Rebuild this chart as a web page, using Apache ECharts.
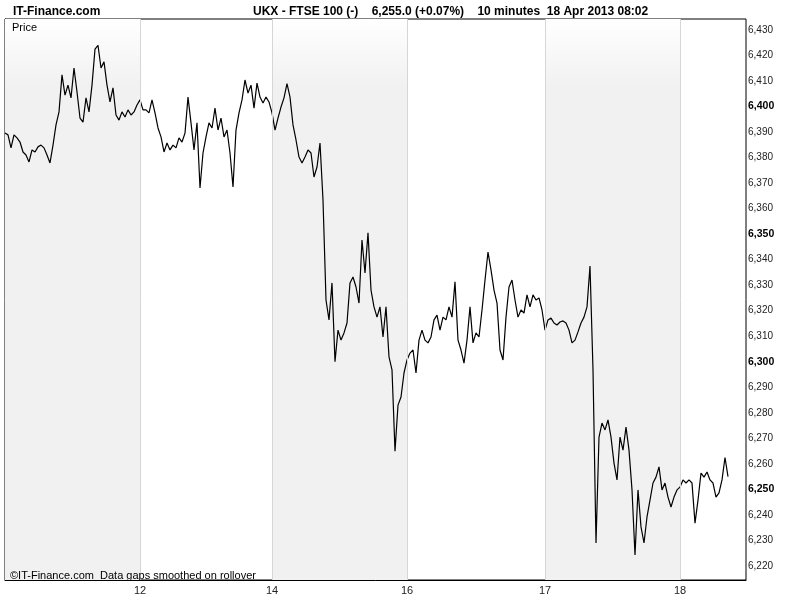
<!DOCTYPE html>
<html>
<head>
<meta charset="utf-8">
<title>UKX - FTSE 100</title>
<script src="https://cdn.jsdelivr.net/npm/echarts@6/dist/echarts.min.js"></script>
<style>
    html, body { margin: 0; padding: 0; background: #fff; }
    #main { width: 800px; height: 600px; }
</style>
</head>
<body>
<div id="main"></div>
<script>
    // 10 minute closes, one array per trading day (Apr 2013)
    var day11 = [6389.6, 6388.9, 6383.8, 6388.9, 6387.7, 6386.1, 6382.2, 6381.0, 6378.3, 6383.0,
        6382.2, 6384.2, 6384.9, 6383.8, 6381.0, 6377.9, 6384.9, 6392.8, 6397.9, 6412.4,
        6404.5, 6408.4, 6403.4, 6415.1, 6405.7, 6395.5, 6393.9, 6403.4, 6397.9, 6408.4,
        6422.5, 6424.0, 6415.1, 6417.5, 6408.4, 6401.8, 6407.3, 6396.7, 6394.7, 6397.9,
        6395.9, 6398.7, 6396.7, 6397.9, 6400.6];
    var day12 = [6402.6, 6398.7, 6398.7, 6397.5, 6402.6, 6397.5, 6391.6, 6388.1, 6382.2, 6385.7,
        6383.0, 6384.9, 6383.8, 6387.7, 6386.1, 6389.6, 6403.7, 6393.6, 6383.0, 6393.6,
        6368.1, 6381.8, 6388.1, 6393.6, 6391.6, 6399.4, 6390.8, 6395.5, 6388.1, 6390.8,
        6381.8, 6368.5, 6390.8, 6397.5, 6402.6, 6410.4, 6405.3, 6408.4, 6399.4, 6409.2,
        6403.7, 6401.4, 6403.7, 6401.8];
    var day15 = [6397.5, 6390.8, 6395.5, 6399.8, 6403.4, 6409.0, 6403.7, 6392.8, 6386.9, 6380.2,
        6377.9, 6380.2, 6383.0, 6381.8, 6372.4, 6376.3, 6385.7, 6363.4, 6324.2, 6316.4,
        6330.9, 6300.0, 6312.4, 6308.5, 6311.3, 6315.2, 6330.9, 6333.2, 6329.3, 6323.0,
        6347.7, 6334.8, 6350.5, 6328.1, 6321.5, 6317.5, 6321.5, 6309.7, 6321.5, 6301.9,
        6296.8, 6265.0, 6283.0, 6286.2, 6295.6];
    var day16 = [6300.7, 6303.4, 6304.6, 6295.6, 6308.5, 6312.4, 6308.5, 6307.4, 6309.7, 6316.4,
        6318.3, 6312.4, 6317.5, 6316.4, 6321.5, 6317.5, 6331.3, 6308.5, 6304.6, 6299.5,
        6308.5, 6321.5, 6307.4, 6311.3, 6309.7, 6320.3, 6332.0, 6343.0, 6336.0, 6328.1,
        6323.0, 6304.6, 6300.7, 6317.5, 6329.3, 6332.0, 6324.2, 6317.5, 6320.3, 6319.1,
        6326.2, 6321.5, 6326.2, 6324.2, 6325.0, 6320.3];
    var day17 = [6312.4, 6316.4, 6317.1, 6315.2, 6314.4, 6315.6, 6316.0, 6315.2, 6312.4, 6307.4,
        6308.5, 6311.7, 6315.2, 6317.5, 6321.5, 6337.5, 6296.8, 6229.0, 6270.5, 6276.0,
        6273.3, 6277.2, 6270.5, 6260.3, 6253.7, 6270.5, 6265.4, 6274.4, 6265.4, 6249.8,
        6224.3, 6249.8, 6235.3, 6229.0, 6239.2, 6245.8, 6252.5, 6254.8, 6258.8, 6249.8,
        6252.5, 6247.0, 6243.1, 6247.0, 6249.8];
    var day18 = [6250.9, 6253.7, 6252.5, 6253.7, 6252.5, 6236.8, 6245.8, 6256.4, 6254.8, 6256.8,
        6253.7, 6252.5, 6247.0, 6248.6, 6253.7, 6262.5, 6255.0];

    var days = [day11, day12, day15, day16, day17, day18];
    var dayLabels = ['', '12', '14', '16', '17', '18'];
    var shadedDays = [0, 2, 4];
    var yTicks = [6220, 6230, 6240, 6250, 6260, 6270, 6280, 6290, 6300, 6310, 6320,
        6330, 6340, 6350, 6360, 6370, 6380, 6390, 6400, 6410, 6420, 6430];
    var lastPrice = 6255.0;

    var font = '"Liberation Sans", Arial, sans-serif';

    // build [index, value] pairs and the start index of every day
    var seriesData = [];
    var dayStarts = [];
    days.forEach(function(d) {
        dayStarts.push(seriesData.length);
        d.forEach(function(v) {
            seriesData.push([seriesData.length, v]);
        });
    });
    var xMax = 247;

    var labelByIndex = {};
    dayStarts.forEach(function(s, i) { labelByIndex[s] = dayLabels[i]; });
    var xLabelValues = dayStarts.filter(function(s, i) { return dayLabels[i] !== ''; });

    var bands = shadedDays.map(function(i) {
        var end = i + 1 < dayStarts.length ? dayStarts[i + 1] : xMax;
        return [{xAxis: dayStarts[i]}, {xAxis: end}];
    });

    function fmt(v) {
        return String(v).replace(/(\d)(\d{3})$/, '$1,$2');
    }

    var my_chart = echarts.init(document.getElementById('main'));
    var option = {
        animation: false,
        backgroundColor: '#ffffff',
        textStyle: {fontFamily: font},
        title: [
            {
                text: 'IT-Finance.com', left: 8, top: 1,
                textStyle: {fontFamily: font, fontSize: 12, fontWeight: 'bold', color: '#000'}
            },
            {
                text: 'UKX - FTSE 100 (-)    6,255.0 (+0.07%)    10 minutes  18 Apr 2013 08:02', left: 248, top: 1,
                textStyle: {fontFamily: font, fontSize: 12, fontWeight: 'bold', color: '#000'}
            },
            {
                text: 'Price', left: 7, top: 17,
                textStyle: {fontFamily: font, fontSize: 11, fontWeight: 'normal', color: '#000'}
            },
            {
                text: '\u00a9IT-Finance.com  Data gaps smoothed on rollover', left: 5, top: 565,
                textStyle: {fontFamily: font, fontSize: 11, fontWeight: 'normal', color: '#000'}
            }
        ],
        grid: {
            left: 5, right: 54, top: 19, bottom: 20,
            containLabel: false,
            outerBoundsMode: 'none',
            show: true,
            borderColor: '#000',
            borderWidth: 1,
            backgroundColor: 'transparent'
        },
        xAxis: {
            type: 'value',
            min: 0,
            max: xMax,
            axisLine: {show: true, lineStyle: {color: '#000'}},
            axisTick: {show: false},
            splitLine: {show: false},
            axisLabel: {
                customValues: xLabelValues,
                formatter: function(v) { return labelByIndex[v] || ''; },
                color: '#222',
                fontSize: 11,
                fontFamily: font,
                margin: 5
            }
        },
        yAxis: {
            type: 'value',
            position: 'right',
            min: 6214.5,
            max: 6434.3,
            axisLine: {show: true, lineStyle: {color: '#000'}},
            axisTick: {show: true, customValues: yTicks, length: 3, lineStyle: {color: '#555'}},
            splitLine: {show: false},
            axisLabel: {
                customValues: yTicks,
                margin: 2,
                color: '#222',
                fontSize: 10,
                fontFamily: font,
                formatter: function(v) {
                    return v % 50 === 0 ? '{b|' + fmt(v) + '}' : fmt(v);
                },
                rich: {
                    b: {fontWeight: 'bold', fontSize: 10.5, color: '#000', fontFamily: font}
                }
            }
        },
        series: [{
            type: 'line',
            data: seriesData,
            showSymbol: false,
            symbol: 'none',
            lineStyle: {color: '#000', width: 1.2},
            markArea: {
                silent: true,
                itemStyle: {
                    color: {
                        type: 'linear', x: 0, y: 0, x2: 0, y2: 1,
                        colorStops: [
                            {offset: 0, color: '#ffffff'},
                            {offset: 0.12, color: '#f1f1f1'},
                            {offset: 1, color: '#f1f1f1'}
                        ]
                    }
                },
                data: bands
            },
            markLine: {
                silent: true,
                symbol: 'none',
                data: xLabelValues.map(function(s) {
                    return {xAxis: s, lineStyle: {color: '#d6d6d6', width: 1, type: 'solid'}, label: {show: false}};
                }).concat([{
                    yAxis: lastPrice,
                    lineStyle: {opacity: 0},
                    label: {
                        show: true,
                        position: 'end',
                        distance: 2,
                        formatter: '6,255.0',
                        backgroundColor: '#ffe000',
                        borderColor: '#999',
                        borderWidth: 1,
                        padding: [1, 2, 0, 2],
                        color: '#000',
                        fontSize: 10,
                        fontFamily: font
                    }
                }])
            }
        }]
    };

    my_chart.setOption(option);
</script>
</body>
</html>
